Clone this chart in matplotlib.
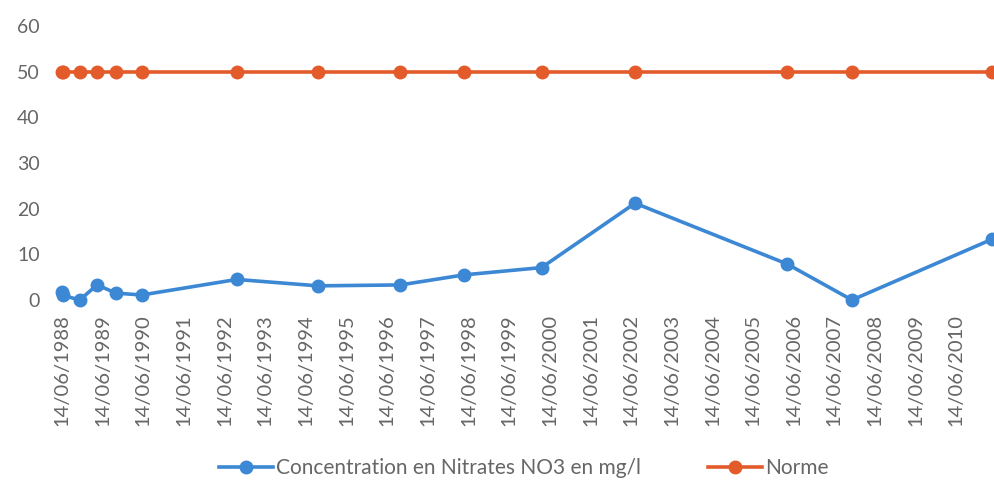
import pandas as pd
import matplotlib.pyplot as plt
import matplotlib.dates as mdates

# sampling dates and nitrate readings (mg/l)
dates = ['1988-06-14', '1988-06-24', '1988-11-20', '1989-04-25', '1989-10-12',
         '1990-06-01', '1992-10-01', '1994-10-01', '1996-10-10', '1998-05-05',
         '2000-04-01', '2002-07-20', '2006-04-15', '2007-11-20', '2011-05-01']
no3 = [1.7, 1.0, 0.0, 3.3, 1.5, 1.1, 4.5, 3.1, 3.3, 5.5, 7.1, 21.2, 7.9, 0.0, 13.3]
norme = [50] * len(dates)

tick_years = list(range(1988, 2011))
yticks = [0, 10, 20, 30, 40, 50, 60]

plt.rcParams['font.family'] = ['Lato', 'DejaVu Sans']
txt_color = '#666666'
color_no3 = '#3C88D4'
color_norme = '#E35B2A'

df = pd.DataFrame({'NO3': no3, 'Norme': norme}, index=pd.to_datetime(dates))

fig = plt.figure(figsize=(9.95, 4.82), dpi=100)
ax = fig.add_axes([62 / 995, 182 / 482, 930 / 995, 274 / 482])

ax.plot(df.index, df['NO3'], color=color_no3, lw=2.6, marker='o', ms=9,
        clip_on=False, label='Concentration en Nitrates NO3 en mg/l')
ax.plot(df.index, df['Norme'], color=color_norme, lw=2.6, marker='o', ms=9,
        clip_on=False, label='Norme')

ax.set_xlim(df.index[0], df.index[-1])
ax.set_ylim(0, 60)
ax.set_yticks(yticks)
ax.set_xticks(pd.to_datetime(['%d-06-14' % y for y in tick_years]))
ax.xaxis.set_major_formatter(mdates.DateFormatter('%d/%m/%Y'))

for s in ax.spines.values():
    s.set_visible(False)
ax.tick_params(axis='y', length=0, pad=16, labelsize=14, labelcolor=txt_color)
ax.tick_params(axis='x', length=0, pad=10, labelsize=14.5, labelcolor=txt_color,
               labelrotation=90)

fig.legend(loc='center', bbox_to_anchor=(524 / 995, 1 - 468 / 482), ncol=2,
           frameon=False, fontsize=15, labelcolor=txt_color, handlelength=2.6,
           handletextpad=0.15, columnspacing=3.2, borderpad=0)

plt.savefig('out.png', dpi=100)
